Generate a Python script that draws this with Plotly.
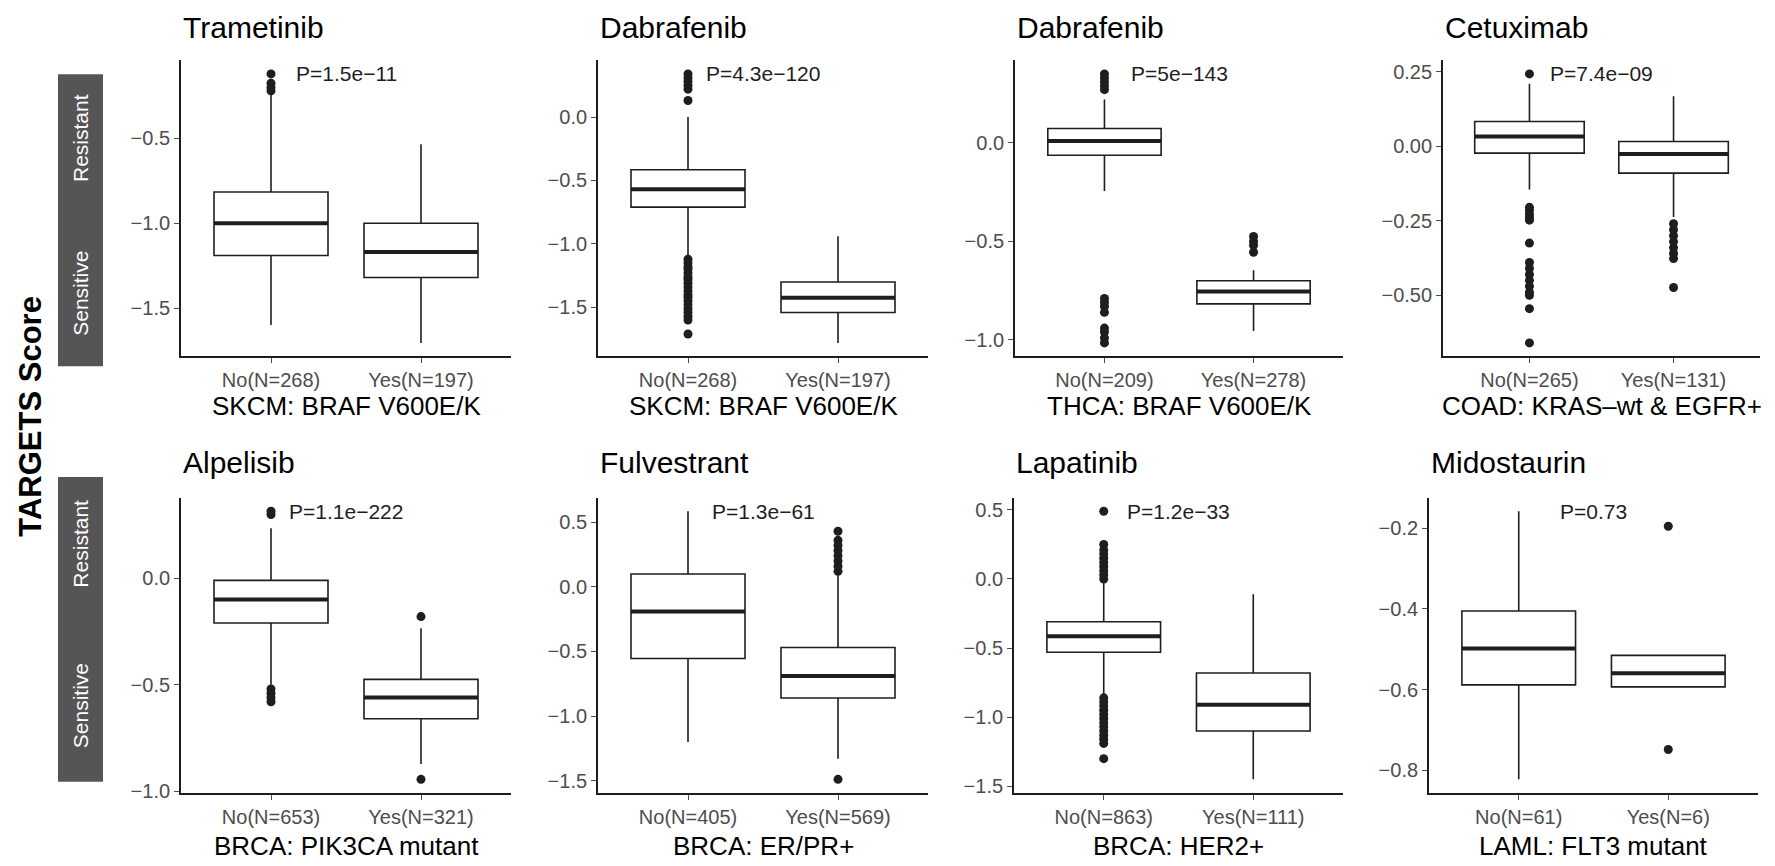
import plotly.graph_objects as go

W, H = 1775, 866

# ---------------- data ----------------
drugs = ["Trametinib", "Dabrafenib", "Dabrafenib", "Cetuximab",
         "Alpelisib", "Fulvestrant", "Lapatinib", "Midostaurin"]
groups = ["SKCM: BRAF V600E/K", "SKCM: BRAF V600E/K", "THCA: BRAF V600E/K",
          "COAD: KRAS\u2013wt & EGFR+", "BRCA: PIK3CA mutant", "BRCA: ER/PR+",
          "BRCA: HER2+", "LAML: FLT3 mutant"]
no_labels = ["No(N=268)", "No(N=268)", "No(N=209)", "No(N=265)",
             "No(N=653)", "No(N=405)", "No(N=863)", "No(N=61)"]
yes_labels = ["Yes(N=197)", "Yes(N=197)", "Yes(N=278)", "Yes(N=131)",
              "Yes(N=321)", "Yes(N=569)", "Yes(N=111)", "Yes(N=6)"]
pvals = ["P=1.5e\u221211", "P=4.3e\u2212120", "P=5e\u2212143", "P=7.4e\u221209",
         "P=1.1e\u2212222", "P=1.3e\u221261", "P=1.2e\u221233", "P=0.73"]

# box stats: [lowerfence, q1, median, q3, upperfence]
no_stats = [
    [-1.60, -1.19, -1.00, -0.816, -0.243],
    [-1.09, -0.71, -0.57, -0.415, 0.00],
    [-0.244, -0.063, 0.01, 0.073, 0.22],
    [-0.145, -0.023, 0.033, 0.083, 0.21],
    [-0.50, -0.21, -0.10, -0.01, 0.235],
    [-1.20, -0.555, -0.19, 0.10, 0.585],
    [-0.84, -0.53, -0.415, -0.31, -0.02],
    [-0.822, -0.588, -0.498, -0.405, -0.158],
]
yes_stats = [
    [-1.705, -1.32, -1.17, -1.00, -0.535],
    [-1.78, -1.54, -1.425, -1.30, -0.94],
    [-0.955, -0.817, -0.754, -0.70, -0.646],
    [-0.237, -0.09, -0.026, 0.016, 0.168],
    [-0.873, -0.66, -0.56, -0.475, -0.235],
    [-1.33, -0.86, -0.69, -0.47, 0.09],
    [-1.45, -1.10, -0.91, -0.68, -0.11],
    [-0.593, -0.593, -0.559, -0.515, -0.515],
]
no_outliers = [
    [-0.12, -0.175, -0.20, -0.22],
    [0.13, 0.22, 0.25, 0.28, 0.31, 0.34,
     -1.12, -1.15, -1.18, -1.20, -1.23, -1.26, -1.28, -1.31, -1.34, -1.37,
     -1.40, -1.42, -1.45, -1.48, -1.51, -1.54, -1.57, -1.60, -1.71],
    [0.27, 0.29, 0.31, 0.33, 0.35, -0.79, -0.81, -0.83, -0.86,
     -0.94, -0.96, -0.99, -1.015],
    [0.243, -0.205, -0.215, -0.228, -0.24, -0.248, -0.325, -0.39, -0.41,
     -0.43, -0.45, -0.47, -0.49, -0.50, -0.545, -0.66],
    [0.30, 0.315, -0.52, -0.54, -0.56, -0.58],
    [],
    [0.0, 0.03, 0.06, 0.09, 0.12, 0.15, 0.18, 0.21, 0.25, 0.49,
     -0.86, -0.89, -0.92, -0.95, -0.98, -1.01, -1.04, -1.07, -1.10, -1.13,
     -1.16, -1.19, -1.30],
    [],
]
yes_outliers = [
    [],
    [],
    [-0.475, -0.50, -0.52, -0.555],
    [-0.26, -0.28, -0.30, -0.32, -0.34, -0.36, -0.377, -0.474],
    [-0.18, -0.945],
    [0.12, 0.16, 0.20, 0.24, 0.28, 0.32, 0.36, 0.43, -1.49],
    [],
    [-0.195, -0.748],
]
y_dticks = [0.5, 0.5, 0.5, 0.25, 0.5, 0.5, 0.5, 0.2]
y_formats = [".1f", ".1f", ".1f", ".2f", ".1f", ".1f", ".1f", ".1f"]
strip_labels = ["Sensitive", "Resistant"]
y_title = "TARGETS Score"

# ---------------- layout geometry (pixels) ----------------
x_px = [(173, 503), (590, 920), (1007, 1335), (1435, 1752),
        (173, 503), (590, 920), (1006, 1335), (1421, 1750)]
row_px = [(53, 352), (495, 793)]
title_top_px = [1, 441]
xtitle_px = [402, 847]
FONT = "Liberation Sans, Arial, Helvetica, sans-serif"
INK = "#1e1e1e"
TICKC = "#4d4d4d"


def px_x(p):
    return p / W


def px_y(p):
    return 1 - p / H


fig = go.Figure()
annotations = []
shapes = []
BW = 0.76

for i in range(8):
    n = i + 1
    xa = "x" if n == 1 else f"x{n}"
    ya = "y" if n == 1 else f"y{n}"
    row = 0 if i < 4 else 1
    for xpos, st in ((0, no_stats[i]), (1, yes_stats[i])):
        fig.add_trace(go.Box(
            x=[xpos], lowerfence=[st[0]], q1=[st[1]], median=[st[2]],
            q3=[st[3]], upperfence=[st[4]], width=BW, whiskerwidth=0,
            fillcolor="white", line=dict(color=INK, width=1.6),
            boxpoints=False, showlegend=False, xaxis=xa, yaxis=ya,
            hoverinfo="skip"))
        # thicker median line (ggplot fatten)
        fig.add_trace(go.Scatter(
            x=[xpos - BW / 2, xpos + BW / 2], y=[st[2], st[2]], mode="lines",
            line=dict(color=INK, width=4), showlegend=False,
            xaxis=xa, yaxis=ya, hoverinfo="skip"))
    ox = [0] * len(no_outliers[i]) + [1] * len(yes_outliers[i])
    oy = no_outliers[i] + yes_outliers[i]
    if oy:
        fig.add_trace(go.Scatter(
            x=ox, y=oy, mode="markers",
            marker=dict(color=INK, size=9, line=dict(width=0)),
            showlegend=False, xaxis=xa, yaxis=ya, hoverinfo="skip"))

    allv = no_stats[i] + yes_stats[i] + no_outliers[i] + yes_outliers[i]
    lo, hi = min(allv), max(allv)
    pad = 0.05 * (hi - lo)

    x0, x1 = x_px[i]
    t, b = row_px[row]
    axis_common = dict(showline=True, linecolor=INK, linewidth=1.8,
                       ticks="outside", ticklen=5, tickwidth=1.4,
                       tickcolor=TICKC, showgrid=False, zeroline=False,
                       tickfont=dict(family=FONT, size=20, color=TICKC))
    fig.layout[("xaxis" if n == 1 else f"xaxis{n}")] = dict(
        domain=[px_x(x0), px_x(x1)], anchor=ya, range=[-0.6, 1.6],
        tickmode="array", tickvals=[0, 1],
        ticktext=[no_labels[i], yes_labels[i]], **axis_common)
    fig.layout[("yaxis" if n == 1 else f"yaxis{n}")] = dict(
        domain=[px_y(b), px_y(t)], anchor=xa, range=[lo - pad, hi + pad],
        dtick=y_dticks[i], tickformat=y_formats[i], **axis_common)

    # p-value text at the data max
    annotations.append(dict(
        x=0.5, y=hi, xref=xa, yref=ya, text=pvals[i], showarrow=False,
        xanchor="center", yanchor="middle",
        font=dict(family=FONT, size=21, color=INK)))
    # panel title
    annotations.append(dict(
        x=px_x(x0), y=px_y(title_top_px[row]), xref="paper", yref="paper",
        text=drugs[i], showarrow=False, xanchor="left", yanchor="top",
        font=dict(family=FONT, size=30, color="black")))
    # x axis title
    annotations.append(dict(
        x=px_x((x0 + x1) / 2), y=px_y(xtitle_px[row]), xref="paper",
        yref="paper", text=groups[i], showarrow=False, xanchor="center",
        yanchor="middle", font=dict(family=FONT, size=26, color="black")))

# left strips
strips = [(67, 362), (474, 782)]
for (st, sb) in strips:
    shapes.append(dict(type="rect", xref="paper", yref="paper",
                       x0=px_x(50), x1=px_x(95), y0=px_y(sb), y1=px_y(st),
                       fillcolor="#555555", line=dict(width=0)))
    h = sb - st
    for lab, frac in ((strip_labels[1], 0.22), (strip_labels[0], 0.75)):
        annotations.append(dict(
            x=px_x(72.5), y=px_y(st + frac * h), xref="paper", yref="paper",
            text=lab, showarrow=False, textangle=-90, xanchor="center",
            yanchor="middle", font=dict(family=FONT, size=21, color="white")))

annotations.append(dict(
    x=px_x(23), y=px_y(413), xref="paper", yref="paper",
    text="<b>" + y_title + "</b>", showarrow=False, textangle=-90,
    xanchor="center", yanchor="middle",
    font=dict(family=FONT, size=31, color="black")))

fig.update_layout(
    width=W, height=H, margin=dict(l=0, r=0, t=0, b=0),
    paper_bgcolor="white", plot_bgcolor="white",
    annotations=annotations, shapes=shapes, boxmode="overlay",
    font=dict(family=FONT))

fig.write_html("out.html")
